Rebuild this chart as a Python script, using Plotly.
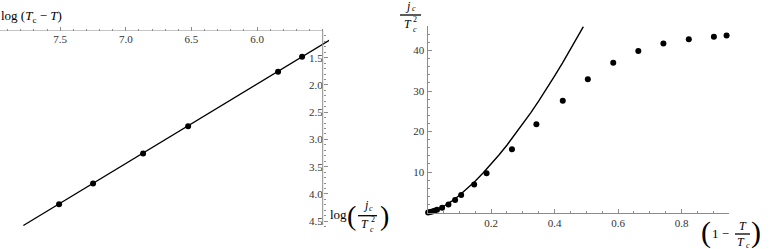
import plotly.graph_objects as go

W, H = 777, 249

# ---- data ----
left_x = [7.508, 7.249, 6.868, 6.525, 5.84, 5.657]
left_y = [4.19, 3.81, 3.26, 2.76, 1.756, 1.48]
left_fit_x = [7.78, 5.45]
left_fit_y = [4.58, 1.18]
left_xticks = [7.5, 7.0, 6.5, 6.0]
left_yticks = [1.5, 2.0, 2.5, 3.0, 3.5, 4.0, 4.5]

right_x = [0.002, 0.008, 0.015, 0.022, 0.030, 0.046, 0.066, 0.087, 0.106, 0.147, 0.186,
           0.266, 0.343, 0.426, 0.505, 0.585, 0.664, 0.743, 0.823, 0.902, 0.942]
right_y = [0.0, 0.1, 0.25, 0.45, 0.65, 1.15, 2.0, 3.1, 4.3, 6.9, 9.7,
           15.6, 21.8, 27.6, 32.9, 37.0, 39.9, 41.7, 42.8, 43.4, 43.7]
curve_x = [0.0, 0.025, 0.05, 0.075, 0.1, 0.125, 0.15, 0.175, 0.2, 0.225, 0.25,
           0.275, 0.3, 0.325, 0.35, 0.375, 0.4, 0.425, 0.45, 0.475, 0.491]
curve_y = [0.0, 0.53, 1.49, 2.73, 4.21, 5.88, 7.73, 9.74, 11.9, 14.2, 16.6,
           19.2, 21.9, 24.6, 27.5, 30.5, 33.7, 36.9, 40.2, 43.6, 45.9]
right_xticks = [0.2, 0.4, 0.6, 0.8]
right_yticks = [10, 20, 30, 40]

FONT = "Liberation Serif"
AX = "#8c8c8c"
LBL = "#333333"


def fx(p):
    return p / W


def fy(p):
    return 1 - p / H


fig = go.Figure()
fig.add_trace(go.Scatter(x=left_fit_x, y=left_fit_y, mode="lines",
                         line=dict(color="black", width=1.4), xaxis="x", yaxis="y",
                         showlegend=False))
fig.add_trace(go.Scatter(x=left_x, y=left_y, mode="markers",
                         marker=dict(color="black", size=6), xaxis="x", yaxis="y",
                         showlegend=False, cliponaxis=False))
fig.add_trace(go.Scatter(x=curve_x, y=curve_y, mode="lines",
                         line=dict(color="black", width=1.4), xaxis="x2", yaxis="y2",
                         showlegend=False))
fig.add_trace(go.Scatter(x=right_x, y=right_y, mode="markers",
                         marker=dict(color="black", size=6), xaxis="x2", yaxis="y2",
                         showlegend=False, cliponaxis=False))

tickfont = dict(family=FONT, size=11, color=LBL)

fig.update_layout(
    width=W, height=H, margin=dict(l=0, r=0, t=0, b=0),
    paper_bgcolor="white", plot_bgcolor="rgba(0,0,0,0)",
    xaxis=dict(domain=[0, fx(329)], range=[7.958, 5.452], anchor="free",
               position=fy(30.5), side="bottom", showline=False, showgrid=False,
               zeroline=False, ticks="inside", ticklen=4, tickcolor=AX,
               tickvals=left_xticks, ticktext=[f"{v:.1f}" for v in left_xticks],
               tickfont=tickfont,
               minor=dict(ticks="inside", ticklen=2, dtick=0.1, tick0=0, tickcolor=AX)),
    yaxis=dict(domain=[fy(228), fy(30.5)], range=[4.626, 1.0], anchor="free",
               position=fx(322.7), side="left", showline=False, showgrid=False,
               zeroline=False, ticks="inside", ticklen=4, tickcolor=AX,
               tickvals=left_yticks, ticktext=[f"{v:.1f}" for v in left_yticks],
               tickfont=tickfont,
               minor=dict(ticks="inside", ticklen=2, dtick=0.1, tick0=0, tickcolor=AX)),
    xaxis2=dict(domain=[fx(427.5), fx(729)], range=[0, 0.9496], anchor="y2",
                showline=True, linecolor=AX, linewidth=1, showgrid=False,
                zeroline=False, ticks="inside", ticklen=4, tickcolor=AX,
                tickvals=right_xticks, ticktext=[f"{v:.1f}" for v in right_xticks],
                tickfont=tickfont,
                minor=dict(ticks="inside", ticklen=2, dtick=0.05, tick0=0, tickcolor=AX)),
    yaxis2=dict(domain=[fy(212.5), fy(26.2)], range=[0, 46], anchor="x2",
                showline=True, linecolor=AX, linewidth=1, showgrid=False,
                zeroline=False, ticks="inside", ticklen=4, tickcolor=AX,
                tickvals=right_yticks, ticktext=[str(v) for v in right_yticks],
                tickfont=tickfont,
                minor=dict(ticks="inside", ticklen=2, dtick=2, tick0=0, tickcolor=AX)),
)

# left panel axis lines (crossing at 5.5 / 1.0)
fig.add_shape(type="line", xref="x", yref="y", x0=7.958, x1=5.5, y0=1.0, y1=1.0,
              line=dict(color=AX, width=1))
fig.add_shape(type="line", xref="x", yref="y", x0=5.5, x1=5.5, y0=0.93, y1=4.57,
              line=dict(color=AX, width=1))


def ann(text, x, y, size=13, xanchor="center"):
    fig.add_annotation(text=text, x=fx(x), y=fy(y), xref="paper", yref="paper",
                       showarrow=False, xanchor=xanchor, yanchor="middle", borderpad=0,
                       font=dict(family=FONT, size=size, color="black"))


def bar(x0, x1, y):
    fig.add_shape(type="line", xref="paper", yref="paper", x0=fx(x0), x1=fx(x1),
                  y0=fy(y), y1=fy(y), line=dict(color="black", width=1.3))


# top-left title
ann("log (<i>T</i><sub>c</sub> − <i>T</i>)", 0, 17, size=13, xanchor="left")

# bottom-left: log(jc / Tc^2)
ann("log", 338, 214, size=13)
ann("(", 351.5, 215, size=28)
ann("<i>j</i>", 365.5, 205, size=12)
ann("<i>c</i>", 370.5, 208, size=8)
bar(358, 377, 215.7)
ann("<i>T</i>", 365, 224, size=12)
ann("<i>c</i>", 372, 229, size=8)
ann("2", 372.5, 219.5, size=8)
ann(")", 384.5, 215, size=28)

# top-right: jc / Tc^2
ann("<i>j</i>", 408, 6, size=12)
ann("<i>c</i>", 413.5, 8.5, size=8)
bar(400, 421, 15)
ann("<i>T</i>", 407.5, 24, size=12)
ann("<i>c</i>", 414.5, 29, size=8)
ann("2", 415, 19.5, size=8)

# bottom-right: (1 - T/Tc)
ann("(", 705.5, 232, size=30)
ann("1 −", 720, 233, size=13)
ann("<i>T</i>", 742.5, 226, size=12)
bar(735, 750, 234)
ann("<i>T</i>", 741, 241.5, size=12)
ann("<i>c</i>", 747.5, 245, size=8)
ann(")", 755.5, 232, size=30)

fig.write_html("out.html", config={"displayModeBar": False},
               post_script="document.body.style.margin='0px';document.body.style.overflow='hidden';")
